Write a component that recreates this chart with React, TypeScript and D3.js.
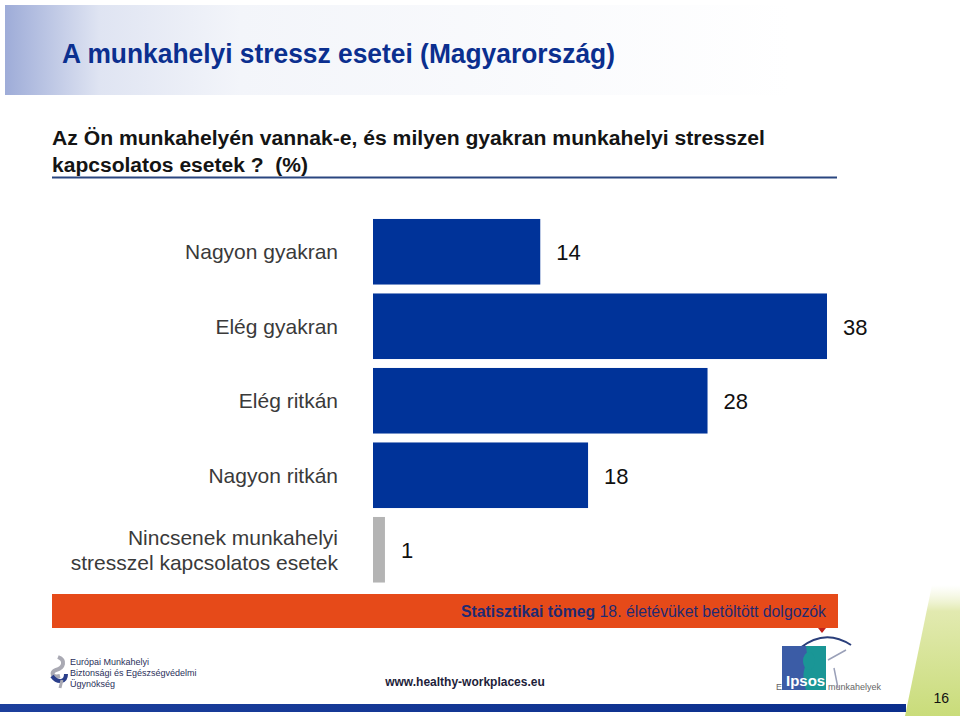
import React from "react";
import * as d3 from "d3";

const categories: string[][] = [
  ["Nagyon gyakran"],
  ["Elég gyakran"],
  ["Elég ritkán"],
  ["Nagyon ritkán"],
  ["Nincsenek munkahelyi", "stresszel kapcsolatos esetek"],
];
const values: number[] = [14, 38, 28, 18, 1];
const barColors: string[] = ["#003399", "#003399", "#003399", "#003399", "#b4b4b4"];

const titleText = "A munkahelyi stressz esetei (Magyarország)";
const subtitleLines = [
  "Az Ön munkahelyén vannak-e, és milyen gyakran munkahelyi stresszel",
  "kapcsolatos esetek ?\u00a0\u00a0(%)",
];
const baseBold = "Statisztikai tömeg";
const baseRest = " 18. életévüket betöltött dolgozók";
const footerUrl = "www.healthy-workplaces.eu";
const oshaLines = ["Európai Munkahelyi", "Biztonsági és Egészségvédelmi", "Ügynökség"];
const pageNumber = "16";

export default function App() {
  const x = d3.scaleLinear().domain([0, 38]).range([373, 827]);
  const idx = d3.range(values.length).map(String);
  const y = d3
    .scaleBand<string>()
    .domain(idx)
    .range([214.5, 587])
    .paddingInner(0.12)
    .paddingOuter(0.06);
  const font = "'Liberation Sans', Arial, sans-serif";

  return (
    <svg
      width={960}
      height={716}
      viewBox="0 0 960 716"
      style={{ position: "absolute", left: 0, top: 0, background: "#fff" }}
      fontFamily={font}
    >
      <defs>
        <linearGradient id="titleGrad" x1="0" x2="1" y1="0" y2="0">
          <stop offset="0" stopColor="#9eacd8" />
          <stop offset="0.12" stopColor="#dfe4f2" />
          <stop offset="0.3" stopColor="#f3f5fa" />
          <stop offset="1" stopColor="#ffffff" />
        </linearGradient>
        <linearGradient id="greenGrad" x1="0" x2="0" y1="0" y2="1">
          <stop offset="0" stopColor="#eef3cf" stopOpacity="0" />
          <stop offset="0.2" stopColor="#e2eab0" />
          <stop offset="1" stopColor="#c9dc7a" />
        </linearGradient>
        <linearGradient id="blueLine" x1="0" x2="1" y1="0" y2="0">
          <stop offset="0" stopColor="#1c3f9c" />
          <stop offset="1" stopColor="#0a2e8c" />
        </linearGradient>
      </defs>

      {/* title band */}
      <rect x={5} y={5} width={785} height={90} fill="url(#titleGrad)" />
      <text
        x={62}
        y={63}
        fontSize={27}
        fontWeight="bold"
        fill="#0b2f8f"
        textLength={553}
        lengthAdjust="spacingAndGlyphs"
      >
        {titleText}
      </text>

      {/* subtitle */}
      <text x={52} y={145} fontSize={20} fontWeight="bold" fill="#141414" textLength={713} lengthAdjust="spacingAndGlyphs">
        {subtitleLines[0]}
      </text>
      <text x={52} y={172} fontSize={20} fontWeight="bold" fill="#141414" textLength={256} lengthAdjust="spacingAndGlyphs">
        {subtitleLines[1]}
      </text>
      <line x1={52} x2={837} y1={177.5} y2={177.5} stroke="#2a4680" strokeWidth={2} />

      {/* bars */}
      {values.map((v, i) => {
        const yy = y(String(i))!;
        const bw = y.bandwidth();
        const cy = yy + bw / 2;
        const lines = categories[i];
        return (
          <g key={i}>
            <rect x={x(0)} y={yy} width={x(v) - x(0)} height={bw} fill={barColors[i]} />
            <text x={x(v) + 16} y={cy} dy="0.38em" fontSize={22} fill="#111">
              {v}
            </text>
            {lines.map((l, j) => (
              <text
                key={j}
                x={338}
                y={cy + (j - (lines.length - 1) / 2) * 25}
                dy="0.36em"
                fontSize={21}
                fill="#3a3a3a"
                textAnchor="end"
              >
                {l}
              </text>
            ))}
          </g>
        );
      })}

      {/* base band */}
      <rect x={52} y={594} width={786} height={34} fill="#e64a19" />
      <path d="M818,628 L826,628 L822,633 Z" fill="#c0201a" />
      <text x={461} y={617} fontSize={16} fill="#1f2a72" textLength={365} lengthAdjust="spacingAndGlyphs">
        <tspan fontWeight="bold">{baseBold}</tspan>
        <tspan>{baseRest}</tspan>
      </text>

      {/* green corner */}
      <path d="M932,585 L960,585 L960,716 L905,716 Z" fill="url(#greenGrad)" />
      <text x={949} y={703} fontSize={14} textAnchor="end" fill="#111">
        {pageNumber}
      </text>

      {/* bottom line */}
      <rect x={0} y={704} width={906} height={8} fill="url(#blueLine)" />

      {/* EU-OSHA logo */}
      <g>
        <path d="M58,657 C66,660 64,668 56,670 C50,672 52,678 60,676" fill="none" stroke="#a9a9b3" strokeWidth={4} />
        <path d="M52,676 C58,684 66,682 66,674" fill="none" stroke="#2a3e8a" strokeWidth={4} />
        <path d="M62,680 L60,688" stroke="#a9a9b3" strokeWidth={3} />
        {oshaLines.map((l, i) => (
          <text key={i} x={70} y={665 + i * 11} fontSize={9} fill="#2a2f5a">
            {l}
          </text>
        ))}
      </g>

      <text x={465} y={686} fontSize={12} fontWeight="bold" textAnchor="middle" fill="#1e1e3a">
        {footerUrl}
      </text>

      {/* Ipsos logo */}
      <g>
        <text x={776} y={690} fontSize={9} fill="#666">
          E
        </text>
        <text x={828} y={690} fontSize={9} fill="#666">
          munkahelyek
        </text>
        <path d="M800,648 Q825,628 851,645" fill="none" stroke="#2a3e7a" strokeWidth={2} />
        <path d="M828,660 L846,650 M834,668 L838,688" stroke="#9aa0b8" strokeWidth={1.5} fill="none" />
        <rect x={782} y={646} width={44} height={44} fill="#3b5ca6" />
        <path d="M806,646 L826,646 L826,690 L806,690 Q800,672 808,662 Z" fill="#1a9696" />
        <ellipse cx={809} cy={661} rx={6} ry={9} fill="#1a9696" />
        <text x={786} y={686} fontSize={15} fontWeight="bold" fill="#fff">
          Ipsos
        </text>
      </g>
    </svg>
  );
}
